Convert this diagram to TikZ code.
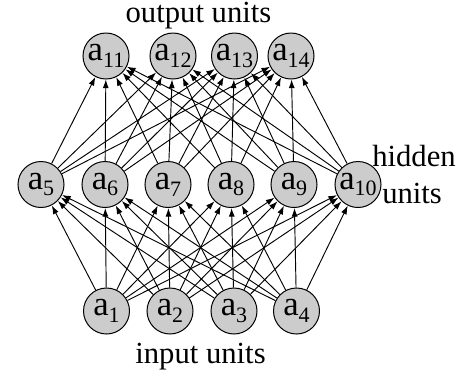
\documentclass[tikz,border=0pt]{standalone}
\usepackage{fontspec}
\setmainfont{Liberation Serif}
\usetikzlibrary{arrows.meta}

\tikzset{
	unit/.style={circle, draw=black, line width=0.75pt, fill={rgb, 255:red, 204; green, 204; blue, 204}, minimum size=34.5pt, inner sep=0pt, font=\fontsize{26}{28}\selectfont},
	link/.style={line width=0.7pt, -{Latex[length=6.5pt,width=4.5pt]}},
	caption/.style={inner sep=0pt, font=\fontsize{23}{27}\selectfont, align=center}
}
\newcommand{\unitlabel}[1]{a\raisebox{-0.2em}{\fontsize{16.5}{18}\selectfont #1}}

\begin{document}
\begin{tikzpicture}[x=0.75pt,y=0.75pt,yscale=-1,xscale=1]
	\useasboundingbox (0,0) rectangle (469,376);
	
	% Input units
	\node (a1) at (106.5,311) [unit] {\unitlabel{1}};
	\node (a2) at (170,311) [unit] {\unitlabel{2}};
	\node (a3) at (234,311) [unit] {\unitlabel{3}};
	\node (a4) at (296.5,311) [unit] {\unitlabel{4}};
	
	% Hidden units
	\node (a5) at (41,184.5) [unit] {\unitlabel{5}};
	\node (a6) at (105,184.5) [unit] {\unitlabel{6}};
	\node (a7) at (168,184.5) [unit] {\unitlabel{7}};
	\node (a8) at (231,184.5) [unit] {\unitlabel{8}};
	\node (a9) at (294,184.5) [unit] {\unitlabel{9}};
	\node (a10) at (358,184.5) [unit] {\unitlabel{10}};
	
	% Output units
	\node (a11) at (106,56) [unit] {\unitlabel{11}};
	\node (a12) at (173,56) [unit] {\unitlabel{12}};
	\node (a13) at (234.5,56) [unit] {\unitlabel{13}};
	\node (a14) at (291,56) [unit] {\unitlabel{14}};
	
	% Text Node
	\node (outtext) at (198.5,22.5) [caption, anchor=base] {output units};
	% Text Node
	\node (hidtext) at (372,166) [caption, anchor=base west] {hidden};
	% Text Node
	\node (unitstext) at (382,203) [caption, anchor=base west] {units};
	% Text Node
	\node (intext) at (200.5,363) [caption, anchor=base] {input units};
	
	% Arrows from a1
	\draw [link] (a1) -- (a5);
	\draw [link] (a1) -- (a6);
	\draw [link] (a1) -- (a7);
	\draw [link] (a1) -- (a8);
	\draw [link] (a1) -- (a9);
	\draw [link] (a1) -- (a10);
	% Arrows from a2
	\draw [link] (a2) -- (a5);
	\draw [link] (a2) -- (a6);
	\draw [link] (a2) -- (a7);
	\draw [link] (a2) -- (a8);
	\draw [link] (a2) -- (a9);
	\draw [link] (a2) -- (a10);
	% Arrows from a3
	\draw [link] (a3) -- (a5);
	\draw [link] (a3) -- (a6);
	\draw [link] (a3) -- (a7);
	\draw [link] (a3) -- (a8);
	\draw [link] (a3) -- (a9);
	\draw [link] (a3) -- (a10);
	% Arrows from a4
	\draw [link] (a4) -- (a5);
	\draw [link] (a4) -- (a6);
	\draw [link] (a4) -- (a7);
	\draw [link] (a4) -- (a8);
	\draw [link] (a4) -- (a9);
	\draw [link] (a4) -- (a10);
	
	% Arrows from a5
	\draw [link] (a5) -- (a11);
	\draw [link] (a5) -- (a12);
	\draw [link] (a5) -- (a13);
	\draw [link] (a5) -- (a14);
	% Arrows from a6
	\draw [link] (a6) -- (a11);
	\draw [link] (a6) -- (a12);
	\draw [link] (a6) -- (a13);
	\draw [link] (a6) -- (a14);
	% Arrows from a7
	\draw [link] (a7) -- (a11);
	\draw [link] (a7) -- (a12);
	\draw [link] (a7) -- (a13);
	\draw [link] (a7) -- (a14);
	% Arrows from a8
	\draw [link] (a8) -- (a11);
	\draw [link] (a8) -- (a12);
	\draw [link] (a8) -- (a13);
	\draw [link] (a8) -- (a14);
	% Arrows from a9
	\draw [link] (a9) -- (a11);
	\draw [link] (a9) -- (a12);
	\draw [link] (a9) -- (a13);
	\draw [link] (a9) -- (a14);
	% Arrows from a10
	\draw [link] (a10) -- (a11);
	\draw [link] (a10) -- (a12);
	\draw [link] (a10) -- (a13);
	\draw [link] (a10) -- (a14);
	
\end{tikzpicture}
\end{document}
